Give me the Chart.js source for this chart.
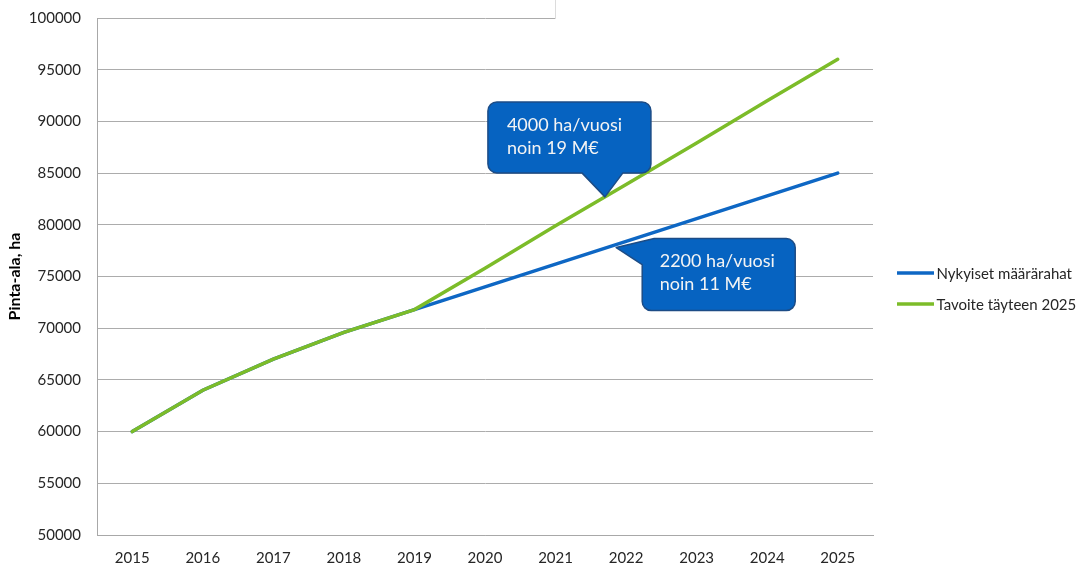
<!DOCTYPE html>
<html><head><meta charset="utf-8">
<script src="https://cdn.jsdelivr.net/npm/chart.js@4"></script>
<style>html,body{margin:0;padding:0;background:#fff}#wrap{width:1084px;height:566px}</style>
</head><body><div id="wrap"><canvas id="c" width="1084" height="566"></canvas></div>
<script>
const years = ['2015','2016','2017','2018','2019','2020','2021','2022','2023','2024','2025'];
const nykyiset = [60000, 64000, 67000, 69600, 71800, 74000, 76200, 78400, 80600, 82800, 85000];
const tavoite  = [60000, 64000, 67000, 69600, 71800, 75800, 79900, 83900, 87900, 92000, 96000];
const seriesNames = ['Nykyiset määrärahat', 'Tavoite täyteen 2025'];
const yMin = 50000, yMax = 100000, yStep = 5000;
const yTitle = 'Pinta-ala, ha';
const callout1 = ['4000 ha/vuosi', 'noin 19 M€'];
const callout2 = ['2200 ha/vuosi', 'noin 11 M€'];

const BLUE = '#0e67c4', GREEN = '#7cbc29';
const FONT = 'Lato, "Open Sans", sans-serif';

function anchor(chart, dsIndex, idx, frac) {
  const pts = chart.getDatasetMeta(dsIndex).data;
  const a = pts[idx], b = pts[idx + 1];
  return { x: a.x + (b.x - a.x) * frac, y: a.y + (b.y - a.y) * frac };
}

const extras = {
  id: 'extras',
  afterDraw(chart) {
    const ctx = chart.ctx;
    const top = chart.chartArea.top;
    ctx.save();
    // top artifact: white box hiding top gridline on the right
    ctx.fillStyle = '#ffffff';
    ctx.fillRect(556, 0, 330, top + 1.3);
    ctx.strokeStyle = '#dcdcdc';
    ctx.lineWidth = 1;
    ctx.beginPath(); ctx.moveTo(555.5, 0); ctx.lineTo(555.5, top + 1); ctx.stroke();

    // legend
    const cols = [BLUE, GREEN];
    const ys = [273, 304];
    ctx.font = '15px ' + FONT;
    ctx.textBaseline = 'middle';
    ctx.textAlign = 'left';
    for (let i = 0; i < 2; i++) {
      ctx.strokeStyle = cols[i];
      ctx.lineWidth = 3.5;
      ctx.beginPath(); ctx.moveTo(897, ys[i]); ctx.lineTo(934, ys[i]); ctx.stroke();
      ctx.fillStyle = '#262626';
      ctx.fillText(seriesNames[i], 936.5, ys[i] + 1);
    }

    // callouts
    const fill = '#0663c1', stroke = '#1c4c86';
    ctx.lineJoin = 'round';
    {
      const t = anchor(chart, 1, 6, 0.7);
      const L = t.x - 117, T = t.y - 95, R = L + 163, B = T + 71, r = 9;
      ctx.beginPath();
      ctx.moveTo(L + r, T);
      ctx.lineTo(R - r, T); ctx.arcTo(R, T, R, T + r, r);
      ctx.lineTo(R, B - r); ctx.arcTo(R, B, R - r, B, r);
      ctx.lineTo(t.x + 18, B); ctx.lineTo(t.x, t.y); ctx.lineTo(t.x - 23, B);
      ctx.lineTo(L + r, B); ctx.arcTo(L, B, L, B - r, r);
      ctx.lineTo(L, T + r); ctx.arcTo(L, T, L + r, T, r);
      ctx.closePath();
      ctx.fillStyle = fill; ctx.fill();
      ctx.strokeStyle = stroke; ctx.lineWidth = 1.5; ctx.stroke();
      ctx.fillStyle = '#f4f4f4';
      ctx.font = '18px ' + FONT;
      ctx.textBaseline = 'middle';
      ctx.fillText(callout1[0], L + 19, T + 23);
      ctx.fillText(callout1[1], L + 19, T + 46);
    }
    {
      const a = anchor(chart, 0, 6, 0.86);
      const t = { x: a.x, y: a.y + 3 };
      const L = t.x + 26, T = t.y - 9, R = L + 153, B = T + 72, r = 9;
      ctx.beginPath();
      ctx.moveTo(L + 12, T);
      ctx.lineTo(R - r, T); ctx.arcTo(R, T, R, T + r, r);
      ctx.lineTo(R, B - r); ctx.arcTo(R, B, R - r, B, r);
      ctx.lineTo(L + r, B); ctx.arcTo(L, B, L, B - r, r);
      ctx.lineTo(L, T + 26); ctx.lineTo(t.x, t.y); ctx.lineTo(L + 12, T);
      ctx.closePath();
      ctx.fillStyle = fill; ctx.fill();
      ctx.strokeStyle = stroke; ctx.lineWidth = 1.5; ctx.stroke();
      ctx.fillStyle = '#f4f4f4';
      ctx.font = '18px ' + FONT;
      ctx.textBaseline = 'middle';
      ctx.fillText(callout2[0], L + 17.5, T + 23);
      ctx.fillText(callout2[1], L + 17.5, T + 46);
    }
    ctx.restore();
  }
};

new Chart(document.getElementById('c'), {
  type: 'line',
  data: {
    labels: years,
    datasets: [
      { label: seriesNames[0], data: nykyiset, borderColor: BLUE, backgroundColor: BLUE, borderWidth: 3.5, pointRadius: 0, tension: 0, order: 2, borderCapStyle: 'round' },
      { label: seriesNames[1], data: tavoite, borderColor: GREEN, backgroundColor: GREEN, borderWidth: 3.5, pointRadius: 0, tension: 0, order: 1, borderCapStyle: 'round' }
    ]
  },
  options: {
    responsive: false,
    animation: false,
    devicePixelRatio: 1,
    layout: { padding: { left: 0, right: 211, top: 18, bottom: 0 } },
    plugins: { legend: { display: false }, tooltip: { enabled: false } },
    scales: {
      x: {
        type: 'category',
        offset: true,
        grid: { display: false, drawTicks: false },
        border: { display: true, color: '#a8a8a8', width: 1 },
        ticks: { color: '#262626', font: { family: FONT, size: 15 }, padding: 14, maxRotation: 0, autoSkip: false },
        afterFit(s) { s.height = 31; s.paddingLeft = 0; s.paddingRight = 0; }
      },
      y: {
        min: yMin, max: yMax,
        grid: { color: '#acacac', lineWidth: 1, drawTicks: false },
        border: { display: true, color: '#a8a8a8', width: 1 },
        ticks: { stepSize: yStep, color: '#262626', font: { family: FONT, size: 15 }, padding: 16, callback: v => String(v) },
        title: { display: true, text: yTitle, color: '#000', font: { family: FONT, size: 16, weight: 'bold' }, padding: { top: 5, bottom: 0 } },
        afterFit(s) { s.width = 97; s.paddingTop = 0; s.paddingBottom = 0; }
      }
    }
  },
  plugins: [extras]
});
</script>
</body></html>
